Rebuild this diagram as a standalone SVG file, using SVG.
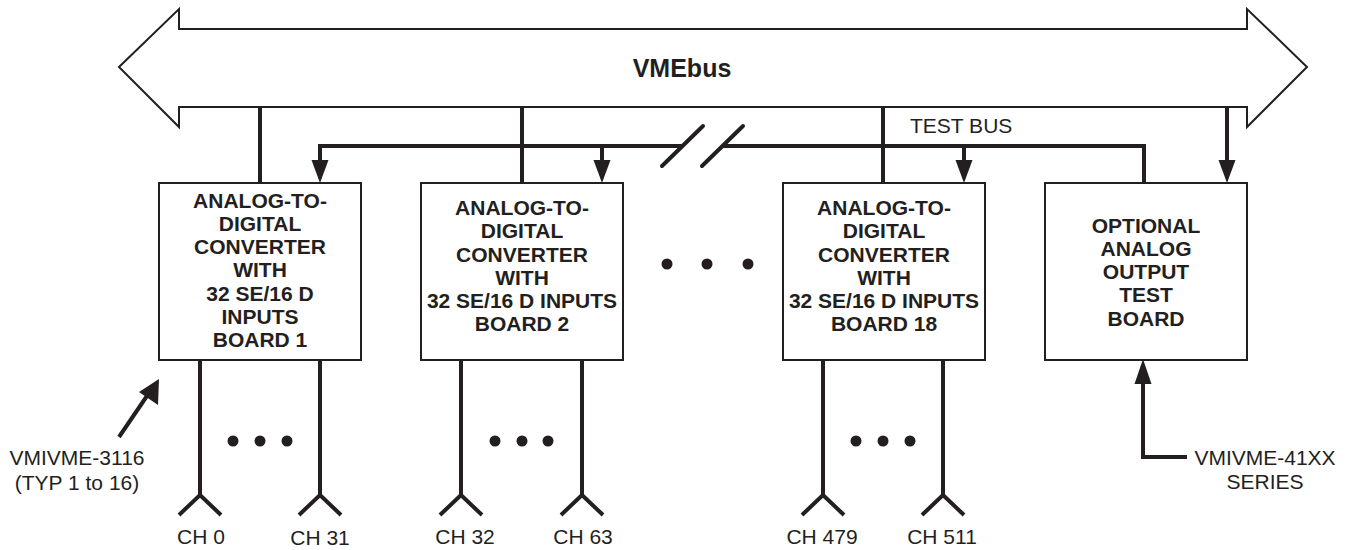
<svg xmlns="http://www.w3.org/2000/svg" width="1350" height="550" viewBox="0 0 1350 550">
<style>
.box{fill:#fff;stroke:#231f20;stroke-width:2}
.bt{font-family:"Liberation Sans",Arial,sans-serif;font-weight:bold;font-size:21px;fill:#231f20;text-anchor:middle}
.rt{font-family:"Liberation Sans",Arial,sans-serif;font-size:21px;fill:#231f20}
.th{fill:none;stroke:#231f20;stroke-width:4}
.ah{fill:#231f20}
.dot{fill:#231f20}
</style>
<defs>
<path id="dn" d="M-8.5,-23 L8.5,-23 L0,0 Z"/>
<path id="ant" d="M0,0 V135 M-21,155 L0,135 L21,155"/>
</defs>
<rect width="1350" height="550" fill="#fff"/>
<g id="vmebus">
<polygon points="119,67 179,9 179,29 1247,29 1247,9 1307,67 1247,127 1247,107 179,107 179,127" fill="#fff" stroke="#231f20" stroke-width="2"/>
<text x="682" y="77" style="font-family:'Liberation Sans',Arial,sans-serif;font-weight:bold;font-size:25px;fill:#231f20;text-anchor:middle">VMEbus</text>
</g>
<g id="connectors">
<path class="th" d="M260,107 V183 M522,107 V183 M883,107 V183 M1227,107 V165"/>
<use href="#dn" x="1227" y="183" class="ah"/>
<path class="th" d="M320,165 V146 H682 M723,146 H1144 V183 M602,146 V165 M964,146 V165"/>
<path class="th" d="M662,166 L703,126 M702,166 L743,126" stroke-linecap="round"/>
<use href="#dn" x="320" y="183" class="ah"/>
<use href="#dn" x="602" y="183" class="ah"/>
<use href="#dn" x="964" y="183" class="ah"/>
<text x="910" y="133" class="rt">TEST BUS</text>
<g class="th">
<use href="#ant" x="200" y="360"/>
<use href="#ant" x="320" y="360"/>
<use href="#ant" x="461" y="360"/>
<use href="#ant" x="582" y="360"/>
<use href="#ant" x="823" y="360"/>
<use href="#ant" x="943" y="360"/>
</g>
<path class="th" d="M119,437 L151,390"/>
<polygon class="ah" points="159,379 158,405 139,392"/>
<path class="th" d="M1187,457 H1143 V383"/>
<polygon class="ah" points="1143,359 1134.5,384 1151.5,384"/>
</g>
<g id="dots">
<circle class="dot" cx="233" cy="441" r="5.5"/><circle class="dot" cx="260" cy="441" r="5.5"/><circle class="dot" cx="287" cy="441" r="5.5"/>
<circle class="dot" cx="495" cy="441" r="5.5"/><circle class="dot" cx="522" cy="441" r="5.5"/><circle class="dot" cx="548" cy="441" r="5.5"/>
<circle class="dot" cx="856" cy="441" r="5.5"/><circle class="dot" cx="883" cy="441" r="5.5"/><circle class="dot" cx="910" cy="441" r="5.5"/>
<circle class="dot" cx="667" cy="264" r="5.5"/><circle class="dot" cx="707" cy="264" r="5.5"/><circle class="dot" cx="748" cy="264" r="5.5"/>
</g>
<g id="board1">
<rect class="box" x="159" y="183" width="202" height="177"/>
<text class="bt" x="260" y="208">ANALOG-TO-</text>
<text class="bt" x="260" y="231">DIGITAL</text>
<text class="bt" x="260" y="254">CONVERTER</text>
<text class="bt" x="260" y="277">WITH</text>
<text class="bt" x="260" y="301">32 SE/16 D</text>
<text class="bt" x="260" y="324">INPUTS</text>
<text class="bt" x="260" y="347">BOARD 1</text>
</g>
<g id="board2">
<rect class="box" x="421" y="183" width="202" height="177"/>
<text class="bt" x="522" y="215">ANALOG-TO-</text>
<text class="bt" x="522" y="238">DIGITAL</text>
<text class="bt" x="522" y="262">CONVERTER</text>
<text class="bt" x="522" y="285">WITH</text>
<text class="bt" x="522" y="308">32 SE/16 D INPUTS</text>
<text class="bt" x="522" y="331">BOARD 2</text>
</g>
<g id="board18">
<rect class="box" x="783" y="183" width="202" height="177"/>
<text class="bt" x="884" y="215">ANALOG-TO-</text>
<text class="bt" x="884" y="238">DIGITAL</text>
<text class="bt" x="884" y="262">CONVERTER</text>
<text class="bt" x="884" y="285">WITH</text>
<text class="bt" x="884" y="308">32 SE/16 D INPUTS</text>
<text class="bt" x="884" y="331">BOARD 18</text>
</g>
<g id="testboard">
<rect class="box" x="1045" y="183" width="202" height="177"/>
<text class="bt" x="1146" y="233">OPTIONAL</text>
<text class="bt" x="1146" y="256">ANALOG</text>
<text class="bt" x="1146" y="279">OUTPUT</text>
<text class="bt" x="1146" y="302">TEST</text>
<text class="bt" x="1146" y="326">BOARD</text>
</g>
<g id="labels" class="rt" text-anchor="middle">
<text x="77" y="465">VMIVME-3116</text>
<text x="77" y="490">(TYP 1 to 16)</text>
<text x="1265" y="465">VMIVME-41XX</text>
<text x="1265" y="489">SERIES</text>
<text x="201" y="544">CH 0</text>
<text x="320" y="545">CH 31</text>
<text x="465" y="544">CH 32</text>
<text x="583" y="544">CH 63</text>
<text x="822" y="544">CH 479</text>
<text x="942" y="544">CH 511</text>
</g>
</svg>
